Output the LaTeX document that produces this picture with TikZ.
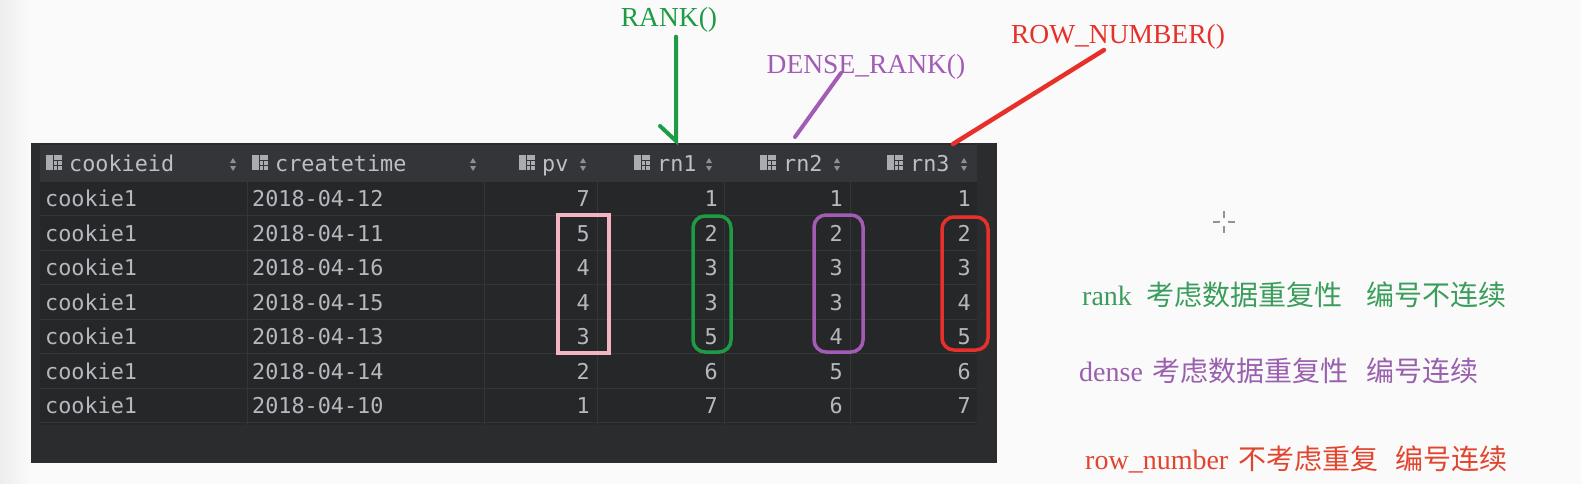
\documentclass[tikz,border=0pt]{standalone}
\usepackage{fontspec}
\setmainfont{Liberation Serif}
\newfontfamily\cjk{Noto Sans CJK SC}
\newfontfamily\tablefont{DejaVu Sans Mono}
\usepackage{tikz}
\usetikzlibrary{positioning, arrows.meta}

\definecolor{pagebg}{HTML}{F9FAF9}
\definecolor{leftstrip}{HTML}{ECEDEC}
\definecolor{framebg}{HTML}{2B2C2E}
\definecolor{hdrbg}{HTML}{333538}
\definecolor{rowbg}{HTML}{262728}
\definecolor{gridc}{HTML}{343536}
\definecolor{celltext}{HTML}{B5B9BF}
\definecolor{hdrtext}{HTML}{BCBFC4}
\definecolor{iconc}{HTML}{A9ACB1}
\definecolor{sortc}{HTML}{8C8F94}
\definecolor{pinkbox}{HTML}{F4B5C2}
\definecolor{rankgreen}{HTML}{1F9A45}
\definecolor{densepurple}{HTML}{A25CB6}
\definecolor{rowred}{HTML}{E8302A}
\definecolor{ranktext}{HTML}{3A9D5C}
\definecolor{densetext}{HTML}{9B5FAF}
\definecolor{rowtext}{HTML}{E2452F}

\begin{document}
\begin{tikzpicture}[x=1pt,y=1pt,yscale=-1,xscale=1,
  cell/.style={font=\tablefont\fontsize{21.8}{22}\selectfont, text=celltext, inner sep=0pt},
  hdr/.style={cell, text=hdrtext, anchor=base west},
  txt/.style={cell, anchor=base west},
  num/.style={cell, anchor=base east},
  markbox/.style={line width=3.5pt, rounded corners=12pt},
  note/.style={font=\fontsize{27.5}{30}\selectfont, inner sep=0pt},
  sidenote/.style={font=\fontsize{28}{30}\selectfont, inner sep=0pt, anchor=base west},
  pointer/.style={line width=4pt, line cap=round}]
\useasboundingbox (0,0) rectangle (1581,484);
\fill[pagebg] (0,0) rectangle (1581,484);
\shade[left color=leftstrip, right color=pagebg] (0,0) rectangle (30,484);

%Shape: Table frame
\fill[framebg] (31,143) rectangle (997,463);
\fill[hdrbg] (40,145) rectangle (977,181);
\fill[rowbg] (40,181) rectangle (977,424.5);
\foreach \k in {0,...,7}
  \draw[gridc, line width=1pt] (40,181+34.5*\k) -- (977,181+34.5*\k);
\foreach \x in {247,484,597,724,850}
  \draw[gridc, line width=1pt] (\x,145) -- (\x,424.5);

% Header Nodes
\foreach \nm/\x/\s/\lbl in {hid/69/233/cookieid, hct/275/473/createtime, hpv/542/583/pv,
    hra/657/709/rn1, hrb/783/837/rn2, hrc/910/964/rn3} {
  \fill[iconc] (\x-23,155) rectangle (\x-7,170);
  \draw[hdrbg, line width=0.8pt] (\x-16,155) -- (\x-16,170) (\x-16,160) -- (\x-7,160)
    (\x-16,165) -- (\x-7,165) (\x-11.5,160) -- (\x-11.5,170);
  \fill[sortc] (\s-3,163) -- (\s+3,163) -- (\s,158) -- cycle;
  \fill[sortc] (\s-3,166) -- (\s+3,166) -- (\s,171) -- cycle;
  \node[hdr] (\nm) at (\x,171) {\lbl};
}

% Row Nodes
\foreach \date/\pv/\ra/\rb/\rc [count=\i] in {2018-04-12/7/1/1/1, 2018-04-11/5/2/2/2,
    2018-04-16/4/3/3/3, 2018-04-15/4/3/3/4, 2018-04-13/3/5/4/5, 2018-04-14/2/6/5/6,
    2018-04-10/1/7/6/7} {
  \pgfmathsetmacro\yb{206.7+34.5*(\i-1)}
  \node[txt] (id\i) at (45,\yb) {cookie1};
  \node[txt] (ct\i) at (252,\yb) {\date};
  \node[num] (pv\i) at (590,\yb) {\pv};
  \node[num] (ra\i) at (718,\yb) {\ra};
  \node[num] (rb\i) at (843,\yb) {\rb};
  \node[num] (rc\i) at (971,\yb) {\rc};
}

%Shape: Marked runs
\draw[pinkbox, line width=3.5pt] (558,215) rectangle (609,353);
\draw[rankgreen, markbox] (693,216) rectangle (731,352);
\draw[densepurple, markbox] (814,215) rectangle (863,352);
\draw[rowred, markbox] (942,217) rectangle (988,350);

% Text Node
\node[note, text=rankgreen] (rank) at (669,20) {RANK()};
\node[note, text=densepurple] (dense) at (866,67) {DENSE\_RANK()};
\node[note, text=rowred] (rownum) at (1118,37) {ROW\_NUMBER()};
\coordinate (rankend) at (676,141);
\coordinate (densetail) at (841,73);
\coordinate (denseend) at (795,137);
\coordinate (rowtail) at (1104,50);
\coordinate (rowend) at (953,144);

%Straight Lines
\draw[rankgreen, pointer, shorten <=4pt] (rank.south -| rankend) -- (rankend) -- ++(-16,-15);
\draw[densepurple, pointer] (densetail) -- (denseend);
\draw[rowred, pointer, line width=4.5pt] (rowtail) -- (rowend);

%Shape: Cursor
\draw[gray!85, line width=2pt] (1213,222) -- (1220,222) (1228,222) -- (1235,222)
  (1224,211) -- (1224,218) (1224,226) -- (1224,233);

% Text Node
\node[sidenote, text=ranktext] (ranknote) at (1082,305)
  {rank\hspace{15pt}{\cjk 考虑数据重复性}\hspace{24pt}{\cjk 编号不连续}};
\node[sidenote, text=densetext] (densenote) at (1079,381)
  {dense\hspace{10pt}{\cjk 考虑数据重复性}\hspace{18pt}{\cjk 编号连续}};
\node[sidenote, text=rowtext] (rownote) at (1085,469)
  {row\_number\hspace{10pt}{\cjk 不考虑重复}\hspace{17pt}{\cjk 编号连续}};
\end{tikzpicture}
\end{document}
